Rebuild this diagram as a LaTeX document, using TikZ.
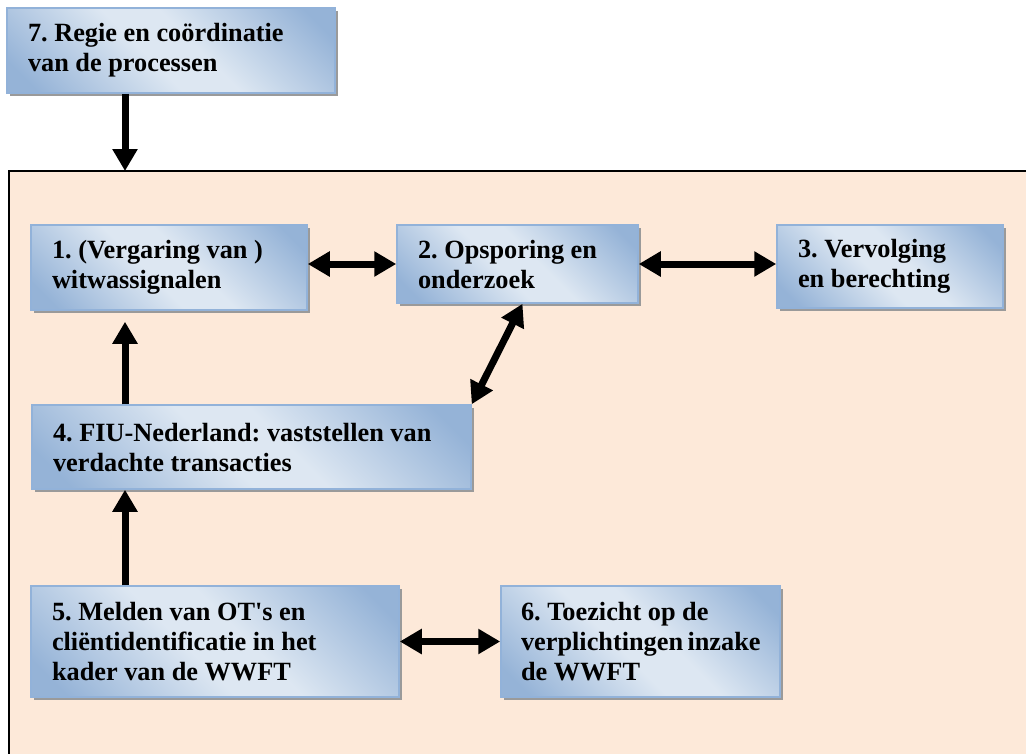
\documentclass[tikz,border=0pt]{standalone}
\usepackage{fontspec}
\setmainfont{Liberation Serif}[Ligatures=TeXOff]
\usepackage{xcolor}
\usepackage{tikz}
\usetikzlibrary{calc}
\usetikzlibrary{arrows.meta}
\usetikzlibrary{shadows}
\definecolor{Perzik}{HTML}{FDE9D9}
\definecolor{BlokDonker}{HTML}{95B3D7}
\definecolor{BlokLicht}{HTML}{DDE7F2}
\definecolor{BlokRand}{HTML}{92B2D9}
\definecolor{Schaduw}{HTML}{9A9A9A}
\pgfdeclarehorizontalshading{blokverloop}{100bp}{color(0bp)=(BlokDonker); color(20bp)=(BlokDonker); color(45bp)=(BlokLicht); color(55bp)=(BlokLicht); color(80bp)=(BlokDonker); color(100bp)=(BlokDonker)}
\frenchspacing
\hyphenpenalty=10000

\tikzset{
  proces/.style = {draw = BlokRand, line width = 1.5pt,
    shading = blokverloop, shading angle = 45,
    drop shadow = {shadow xshift = 3pt, shadow yshift = -3pt,
      fill = Schaduw, opacity = 1},
    inner xsep = 21pt, inner ysep = 0pt, align = flush left,
    font = \bfseries\fontsize{26.3}{30}\selectfont},
  pijl/.style = {line width = 7pt, -{Triangle[length=22pt, width=24pt]}},
  dubbelpijl/.style = {line width = 7pt,
    {Triangle[length=22pt, width=24pt]}-{Triangle[length=22pt, width=24pt]}}
}

\begin{document}
\begin{tikzpicture}[x = 1pt, y = -1pt]
  \useasboundingbox (0,0) rectangle (1026,753);

  % kader om de processen 1 t/m 6
  \draw[fill = Perzik, line width = 2pt] (9,171) rectangle (1045,775);
  \coordinate (kaderboven) at (125,171);
  \coordinate (as) at (125,0);

  \node[proces, minimum width = 328pt, minimum height = 85pt,
    text width = 286pt] (regie) at (171,50.5)
    {7. Regie en coördinatie\\van de processen};

  \node[proces, minimum width = 276pt, minimum height = 85pt,
    text width = 234pt] (signalen) at (169,267.5)
    {1. (Vergaring van )\\witwassignalen};
  \node[proces, minimum width = 241pt, minimum height = 78pt,
    text width = 199pt] (opsporing) at (517.5,264)
    {2. Opsporing en\\onderzoek};
  \node[proces, minimum width = 226pt, minimum height = 83pt,
    text width = 184pt] (vervolging) at (890,266.5)
    {3. Vervolging\\en berechting};

  \node[proces, minimum width = 439pt, minimum height = 84pt,
    text width = 397pt] (fiu) at (251.5,447)
    {4. FIU-Nederland: vaststellen van\\verdachte transacties};

  \node[proces, minimum width = 368pt, minimum height = 111pt,
    text width = 326pt] (melden) at (215,641.5)
    {5. Melden van OT's en\\cliëntidentificatie in het\\kader van de WWFT};
  \node[proces, minimum width = 279pt, minimum height = 111pt,
    inner xsep = 20pt, text width = 239pt] (toezicht) at (640.5,641.5)
    {6. Toezicht op de\\verplichtingen~inzake\\de WWFT};

  % pijlen
  \draw[pijl] (regie.south -| as) -- (kaderboven);
  \draw[dubbelpijl] (signalen.east |- opsporing.west) -- (opsporing.west);
  \draw[dubbelpijl] (opsporing.east) -- (vervolging.west |- opsporing.east);
  \draw[dubbelpijl] ([xshift = 5pt]opsporing.south) -- (fiu.north east);
  \draw[pijl, shorten >= 11pt] (fiu.north -| as) -- (signalen.south -| as);
  \draw[pijl] (melden.north -| as) -- (fiu.south -| as);
  \draw[dubbelpijl] (melden.east) -- (toezicht.west);

\end{tikzpicture}
\end{document}
